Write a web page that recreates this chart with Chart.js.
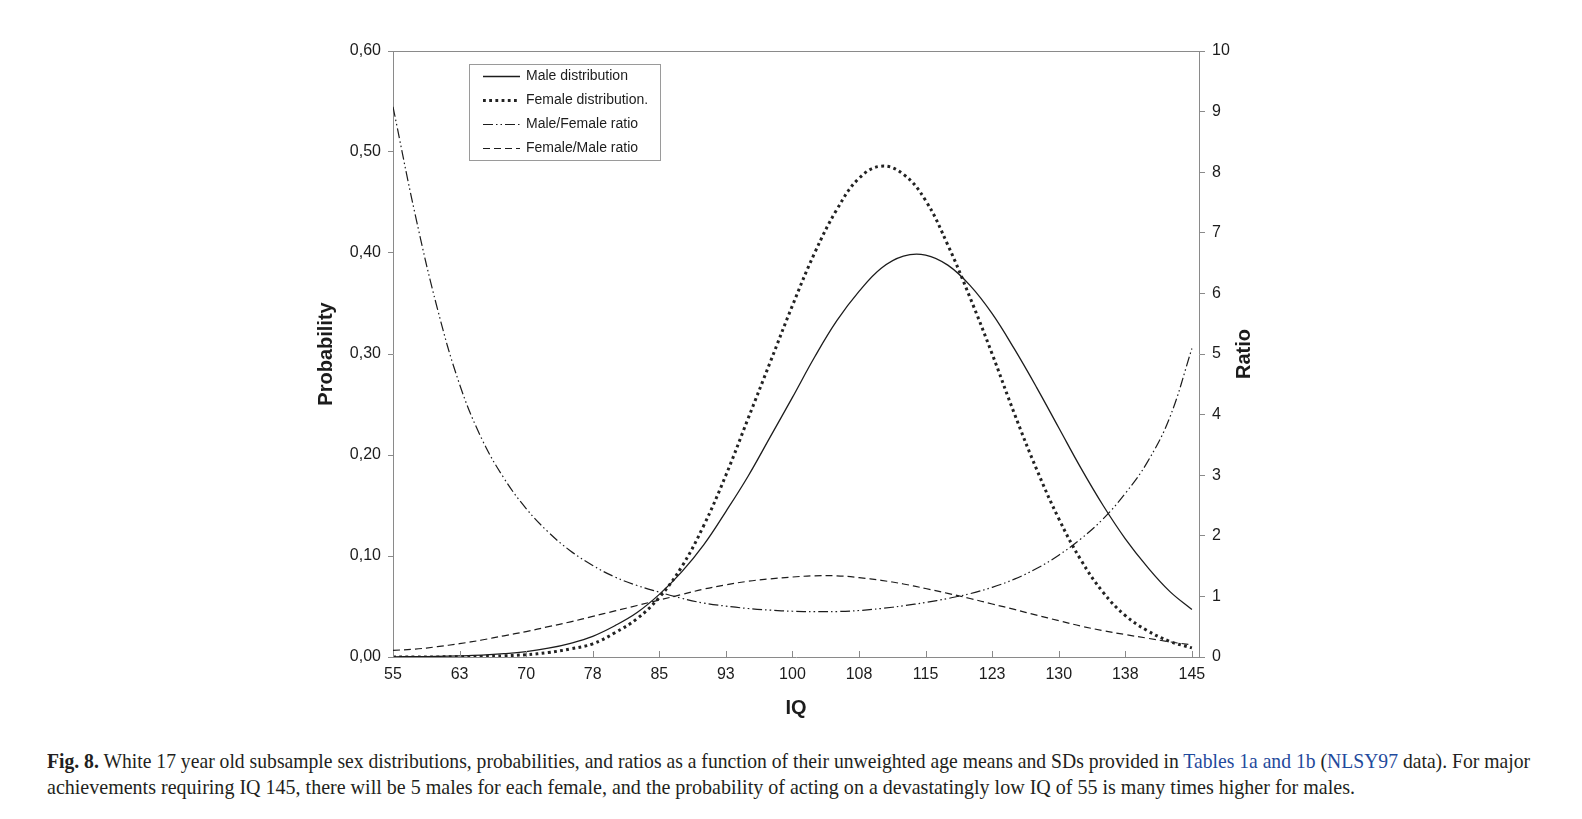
<!DOCTYPE html>
<html>
<head>
<meta charset="utf-8">
<script src="https://cdn.jsdelivr.net/npm/chart.js@4/dist/chart.umd.min.js"></script>
<style>
  html, body { margin: 0; padding: 0; background: #fff; }
  #wrap { position: relative; width: 1582px; height: 819px; overflow: hidden; }
  #chart { position: absolute; left: 0; top: 0; }
  .cap {
    position: absolute; left: 47px; display: inline-block; white-space: nowrap;
    font-family: "Liberation Serif", "DejaVu Serif", serif;
    font-size: 21px; line-height: 26px; color: #231f20;
    transform-origin: 0 0;
  }
  .cap b { font-weight: bold; }
  .cap .ref { color: #1f4a9c; }
</style>
</head>
<body>
<div id="wrap">
  <canvas id="chart" width="1582" height="730"></canvas>
  <div class="cap" data-w="1483" style="top:748px;"><b>Fig. 8.</b> White 17 year old subsample sex distributions, probabilities, and ratios as a function of their unweighted age means and SDs provided in <span class="ref">Tables 1a and 1b</span> (<span class="ref">NLSY97</span> data). For major</div>
  <div class="cap" data-w="1308" style="top:774px;">achievements requiring IQ 145, there will be 5 males for each female, and the probability of acting on a devastatingly low IQ of 55 is many times higher for males.</div>
</div>
<script>
// IQ sample points (every 2.5)
const iq = [55, 57.5, 60, 62.5, 65, 67.5, 70, 72.5, 75, 77.5, 80, 82.5, 85, 87.5, 90, 92.5, 95, 97.5, 100,
            102.5, 105, 107.5, 110, 112.5, 115, 117.5, 120, 122.5, 125, 127.5, 130, 132.5, 135, 137.5, 140, 142.5, 145];

// left axis (probability)
const maleDist = [0.0002, 0.0003, 0.0006, 0.0011, 0.0019, 0.0033, 0.0054, 0.0087, 0.0136, 0.0205, 0.031, 0.044, 0.062,
                  0.084, 0.111, 0.144, 0.179, 0.218, 0.257, 0.297, 0.333, 0.362, 0.385, 0.397, 0.398, 0.388, 0.368,
                  0.340, 0.305, 0.267, 0.227, 0.187, 0.150, 0.117, 0.089, 0.065, 0.047];
const femaleDist = [0.0000, 0.0000, 0.0001, 0.0003, 0.0006, 0.0012, 0.0023, 0.0044, 0.0080, 0.013, 0.024, 0.038, 0.059,
                    0.089, 0.130, 0.180, 0.236, 0.292, 0.348, 0.400, 0.443, 0.474, 0.486, 0.478, 0.452, 0.408, 0.356,
                    0.300, 0.241, 0.186, 0.137, 0.096, 0.064, 0.041, 0.026, 0.0155, 0.009];

// right axis (ratio)
const maleFemaleRatio = [9.08, 7.3, 5.75, 4.5, 3.6, 2.95, 2.45, 2.06, 1.75, 1.51, 1.32, 1.18, 1.07, 0.97, 0.89, 0.84, 0.80,
                         0.773, 0.755, 0.748, 0.75, 0.767, 0.80, 0.845, 0.90, 0.965, 1.045, 1.15, 1.285, 1.46, 1.68, 1.95,
                         2.28, 2.70, 3.22, 3.95, 5.09];
const femaleMaleRatio = [0.11, 0.13, 0.17, 0.22, 0.28, 0.35, 0.42, 0.50, 0.58, 0.67, 0.76, 0.85, 0.94, 1.03, 1.12, 1.19,
                         1.25, 1.29, 1.32, 1.34, 1.34, 1.31, 1.265, 1.205, 1.13, 1.05, 0.965, 0.875, 0.785, 0.69, 0.60, 0.51,
                         0.435, 0.37, 0.31, 0.25, 0.20];

const xTickValues = [55, 62.5, 70, 77.5, 85, 92.5, 100, 107.5, 115, 122.5, 130, 137.5, 145];
const probTicks = [0, 0.1, 0.2, 0.3, 0.4, 0.5, 0.6];

const ink = '#1c1c1c';
const axisGrey = '#8a8a8a';
const fontFam = '"Liberation Sans", Arial, sans-serif';

const pts = ys => iq.map((x, i) => ({ x, y: ys[i] }));

// squeeze the caption lines to the width they take in the figure
function fitCaption() {
  document.querySelectorAll('.cap').forEach(el => {
    el.style.transform = 'none';
    const w = el.getBoundingClientRect().width;
    el.style.transform = `scaleX(${el.dataset.w / w})`;
  });
}
fitCaption();
if (document.fonts) document.fonts.ready.then(fitCaption);

// inside tick marks on the IQ axis, box top line, right title, legend
const extras = {
  id: 'extras',
  afterDraw(chart) {
    const { ctx, chartArea: a, scales } = chart;
    ctx.save();
    ctx.strokeStyle = axisGrey;
    ctx.lineWidth = 1;
    ctx.beginPath();
    ctx.moveTo(a.left, a.top + 0.5);
    ctx.lineTo(a.right, a.top + 0.5);
    scales.x.ticks.forEach(t => {
      const px = Math.round(scales.x.getPixelForValue(t.value)) + 0.5;
      ctx.moveTo(px, a.bottom);
      ctx.lineTo(px, a.bottom - 6);
    });
    ctx.stroke();

    // "Ratio" reads bottom-to-top like the left title
    ctx.fillStyle = ink;
    ctx.font = 'bold 20px ' + fontFam;
    ctx.textAlign = 'center';
    ctx.textBaseline = 'middle';
    ctx.translate(a.right + 45, (a.top + a.bottom) / 2);
    ctx.rotate(-Math.PI / 2);
    ctx.fillText('Ratio', 0, 0);
    ctx.restore();

    // legend box
    const lx = a.left + 76, ly = a.top + 13, lw = 191, lh = 96;
    ctx.save();
    ctx.fillStyle = '#fff';
    ctx.fillRect(lx, ly, lw, lh);
    ctx.strokeStyle = '#9a9a9a';
    ctx.lineWidth = 1;
    ctx.strokeRect(lx + 0.5, ly + 0.5, lw, lh);
    ctx.font = '14px ' + fontFam;
    ctx.textAlign = 'left';
    ctx.textBaseline = 'middle';
    chart.data.datasets.forEach((ds, i) => {
      const yy = Math.round(ly + 12 + i * 24) + 0.5;
      ctx.strokeStyle = ds.borderColor;
      ctx.lineWidth = ds.borderWidth;
      ctx.setLineDash(ds.borderDash || []);
      ctx.beginPath();
      ctx.moveTo(lx + 14, yy);
      ctx.lineTo(lx + 51, yy);
      ctx.stroke();
      ctx.setLineDash([]);
      ctx.fillStyle = ink;
      ctx.fillText(ds.label, lx + 57, yy);
    });
    ctx.restore();
  }
};

new Chart(document.getElementById('chart'), {
  type: 'line',
  data: {
    datasets: [
      {
        label: 'Male distribution',
        data: pts(maleDist),
        borderColor: ink,
        borderWidth: 1.3,
        borderDash: [],
        yAxisID: 'y',
      },
      {
        label: 'Female distribution.',
        data: pts(femaleDist),
        borderColor: '#222',
        borderWidth: 3,
        borderDash: [2.8, 3.4],
        yAxisID: 'y',
      },
      {
        label: 'Male/Female ratio',
        data: pts(maleFemaleRatio),
        borderColor: ink,
        borderWidth: 1.2,
        borderDash: [10, 3, 1.5, 3, 1.5, 3],
        yAxisID: 'y2',
      },
      {
        label: 'Female/Male ratio',
        data: pts(femaleMaleRatio),
        borderColor: ink,
        borderWidth: 1.2,
        borderDash: [7, 4],
        yAxisID: 'y2',
      },
    ],
  },
  options: {
    responsive: false,
    animation: false,
    layout: { padding: { left: 310, right: 323, top: 51, bottom: 9 } },
    elements: {
      point: { radius: 0 },
      line: { tension: 0.4, fill: false, borderCapStyle: 'butt' },
    },
    plugins: {
      legend: { display: false },
      tooltip: { enabled: false },
    },
    scales: {
      x: {
        type: 'linear',
        min: 55,
        max: 145.8,
        afterBuildTicks: s => { s.ticks = xTickValues.map(v => ({ value: v })); },
        afterFit: s => { s.height = 64; },
        grid: { display: false, drawTicks: false },
        border: { color: axisGrey, width: 1 },
        ticks: {
          padding: 8,
          color: ink,
          font: { family: fontFam, size: 16 },
          maxRotation: 0,
          callback: v => Math.round(v),
        },
        title: {
          display: true,
          text: 'IQ',
          color: ink,
          font: { family: fontFam, size: 20, weight: 'bold' },
          padding: { top: 0, bottom: 1 },
        },
      },
      y: {
        position: 'left',
        min: 0,
        max: 0.6,
        afterBuildTicks: s => { s.ticks = probTicks.map(v => ({ value: v })); },
        afterFit: s => { s.width = 83; },
        grid: { drawOnChartArea: false, tickLength: 5, color: axisGrey },
        border: { color: axisGrey, width: 1 },
        ticks: {
          padding: 7,
          color: ink,
          font: { family: fontFam, size: 16 },
          callback: v => v.toFixed(2).replace('.', ','),
        },
        title: {
          display: true,
          text: 'Probability',
          color: ink,
          font: { family: fontFam, size: 20, weight: 'bold' },
          padding: { top: 4, bottom: 4 },
        },
      },
      y2: {
        position: 'right',
        min: 0,
        max: 10,
        afterFit: s => { s.width = 60; },
        grid: { drawOnChartArea: false, tickLength: 6, color: axisGrey },
        border: { color: axisGrey, width: 1 },
        ticks: {
          stepSize: 1,
          padding: 7,
          color: ink,
          font: { family: fontFam, size: 16 },
        },
      },
    },
  },
  plugins: [extras],
});
</script>
</body>
</html>
